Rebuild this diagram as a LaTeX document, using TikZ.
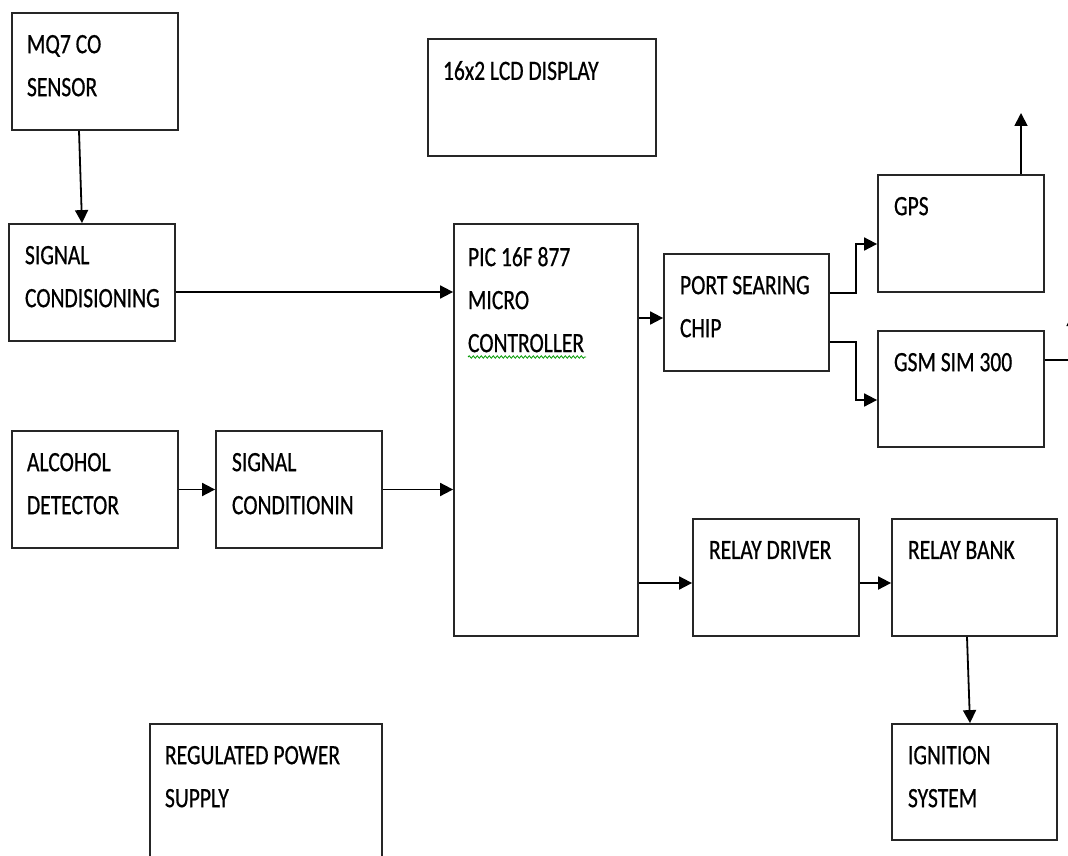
\documentclass[tikz,border=0pt]{standalone}
\usepackage{fontspec}
\setmainfont{Carlito}[FakeStretch=0.77,FakeBold=0.6]
\usetikzlibrary{arrows.meta,decorations.pathmorphing}
\tikzset{
  blk/.style={draw=black!85,line width=1.8pt,minimum width=166pt,minimum height=117pt,inner sep=0pt},
  txt/.style={anchor=north west,align=left,inner sep=0pt,font=\fontsize{28}{43}\selectfont},
  >={Triangle[length=13pt,width=13pt]},
}

\begin{document}
\begin{tikzpicture}[x=1pt,y=-1pt,line width=1.8pt]
  \useasboundingbox (0,0) rectangle (1068,856);
  \clip (0,0) rectangle (1068,856);
  % blocks
  \node[blk]                                   (mq7)   at (95,71.5)   {};
  \node[blk,minimum width=228pt]               (lcd)   at (542,97.5)  {};
  \node[blk]                                   (sc1)   at (92,282.5)  {};
  \node[blk,minimum width=184pt,minimum height=412pt] (pic) at (546,430) {};
  \node[blk,minimum width=165pt]               (port)  at (746.5,312.5) {};
  \node[blk]                                   (gps)   at (961,233.5) {};
  \node[blk,minimum height=116pt]              (gsm)   at (961,389)   {};
  \node[blk]                                   (alc)   at (95,489.5)  {};
  \node[blk]                                   (sc2)   at (299,489.5) {};
  \node[blk]                                   (rdrv)  at (776,577.5) {};
  \node[blk,minimum width=165pt]               (rbank) at (974.5,577.5) {};
  \node[blk,minimum width=165pt,minimum height=116pt] (ign) at (974.5,782) {};
  \node[blk,minimum width=232pt,minimum height=146pt] (psu) at (266,797) {};
  % texts
  \node[txt] (tmq7)  at ([xshift=15pt,yshift=-22pt]mq7.north west)   {MQ7 CO\\SENSOR};
  \node[txt] (tlcd)  at ([xshift=15pt,yshift=-22pt]lcd.north west)   {16x2 LCD DISPLAY};
  \node[txt] (tsc1)  at ([xshift=16pt,yshift=-22pt]sc1.north west)   {SIGNAL\\CONDISIONING};
  \node[txt] (tpic)  at ([xshift=14pt,yshift=-23pt]pic.north west)   {PIC 16F 877\\MICRO\\CONTROLLER};
  \node[txt] (tport) at ([xshift=16pt,yshift=-22pt]port.north west)  {PORT SEARING\\CHIP};
  \node[txt] (tgps)  at ([xshift=16pt,yshift=-22pt]gps.north west)   {GPS};
  \node[txt] (tgsm)  at ([xshift=16pt,yshift=-22pt]gsm.north west)   {GSM SIM 300};
  \node[txt] (talc)  at ([xshift=15pt,yshift=-22pt]alc.north west)   {ALCOHOL\\DETECTOR};
  \node[txt] (tsc2)  at ([xshift=16pt,yshift=-22pt]sc2.north west)   {SIGNAL\\CONDITIONIN};
  \node[txt] (trdrv) at ([xshift=16pt,yshift=-22pt]rdrv.north west)  {RELAY DRIVER};
  \node[txt] (trbank) at ([xshift=16pt,yshift=-22pt]rbank.north west) {RELAY BANK};
  \node[txt] (tign)  at ([xshift=16pt,yshift=-22pt]ign.north west)   {IGNITION\\SYSTEM};
  \node[txt] (tpsu)  at ([xshift=15pt,yshift=-22pt]psu.north west)   {REGULATED POWER\\SUPPLY};
  % spell-check squiggle
  \draw[green!60!black,line width=0.8pt,decorate,decoration={snake,segment length=4pt,amplitude=1.2pt}]
    (468,357) -- (586,357);
  % free ends
  \coordinate (gpsout) at (1021,113);
  \coordinate (gsmout) at (1073,313);
  % connectors
  \draw[->] ([xshift=-16pt]mq7.south) -- ([xshift=-10pt]sc1.north);
  \draw[->] (sc1.east |- 0,292) -- (pic.west |- 0,292);
  \draw[->] (alc.east) -- (sc2.west);
  \draw[->] (sc2.east) -- (sc2.east -| pic.west);
  \draw[->] (pic.east |- 0,318) -- (port.west |- 0,318);
  \draw[->] ([yshift=19.5pt]port.east) -- ++(26,0) |- ([yshift=-10.5pt]gps.west);
  \draw[->] ([yshift=-29.5pt]port.east) -- ++(26,0) |- ([yshift=-11pt]gsm.west);
  \draw[->] ([xshift=60pt]gps.north) -- (gpsout);
  \draw[->] ([yshift=29pt]gsm.east) -| (gsmout);
  \draw[->] (pic.east |- 0,583) -- (rdrv.west |- 0,583);
  \draw[->] (rdrv.east |- 0,583) -- (rbank.west |- 0,583);
  \draw[->] ([xshift=-7.5pt]rbank.south) -- ([xshift=-4.5pt]ign.north);
\end{tikzpicture}
\end{document}
